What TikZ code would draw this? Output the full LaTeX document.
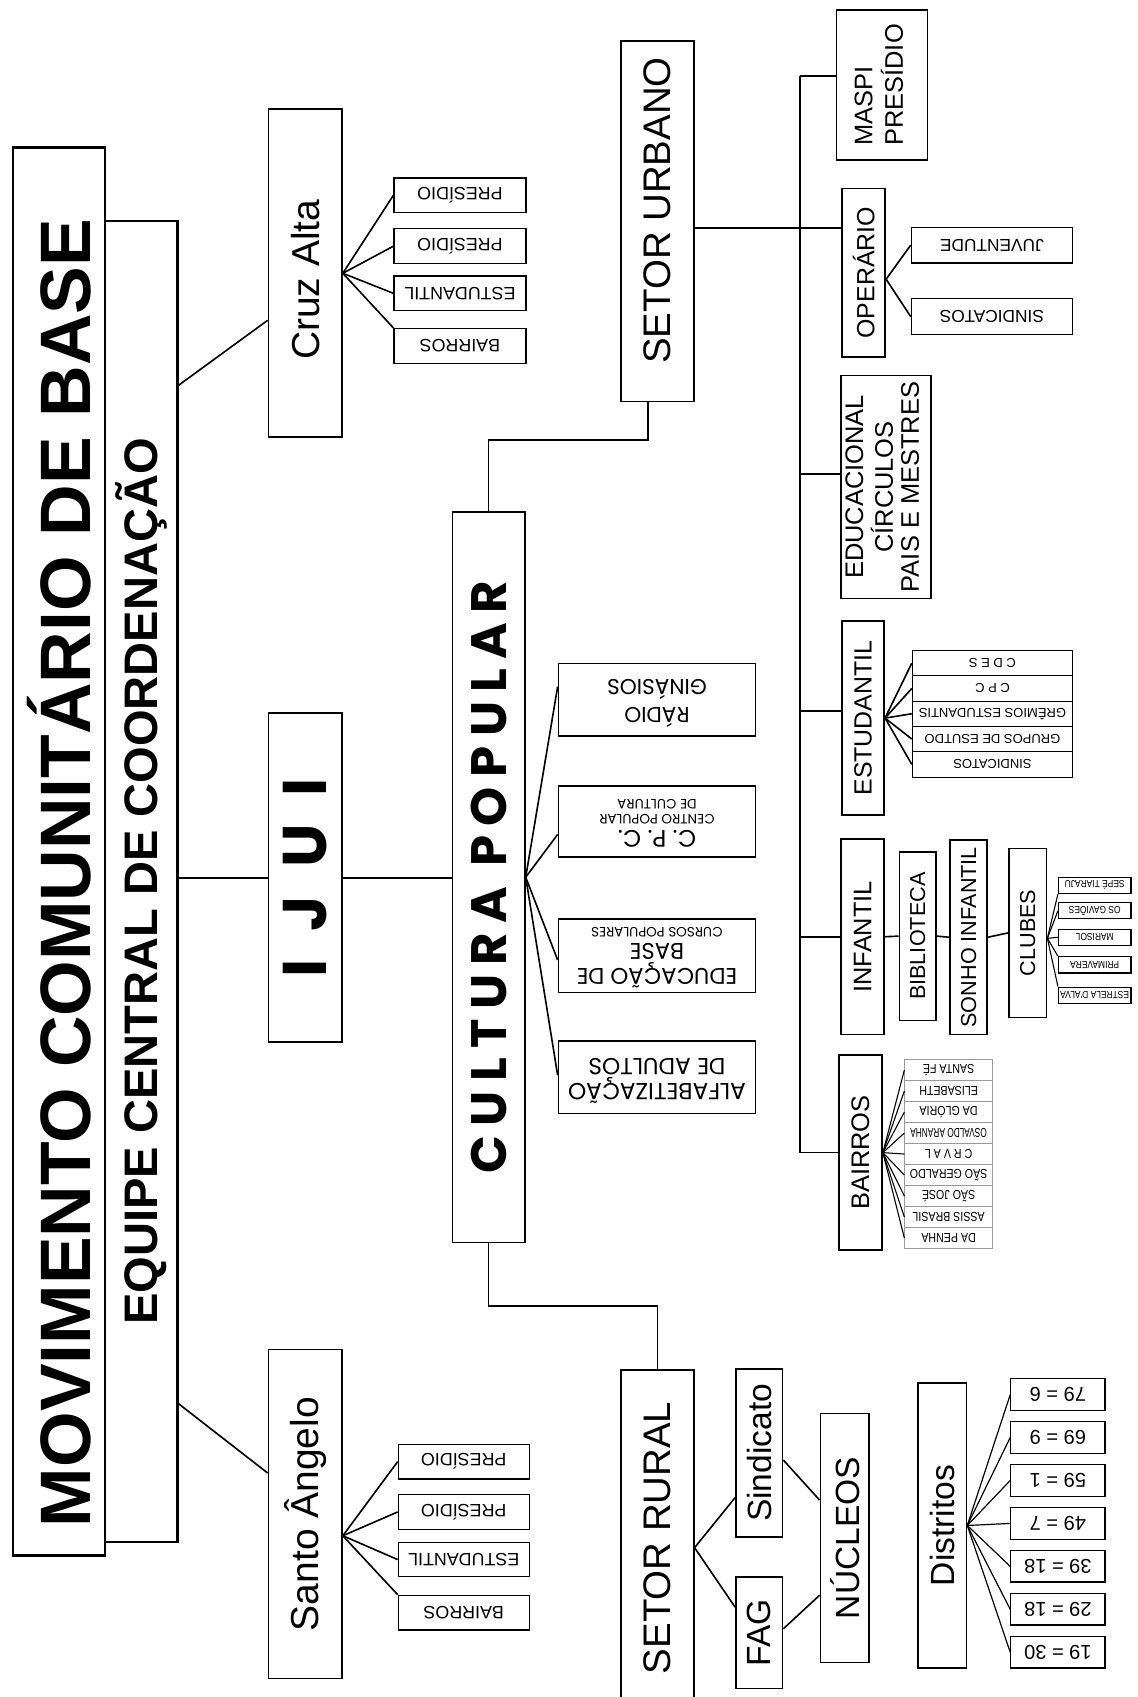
\documentclass[tikz,border=0pt]{standalone}
\usepackage{fontspec}
\setmainfont{Liberation Sans}
\newfontfamily\geofont{Poppins}
\newfontfamily\narrowfont[FakeStretch=0.82]{Liberation Sans}
\newcommand{\fsz}[2]{\fontsize{#1}{#2}\selectfont}
\newcommand{\vup}[1]{\rotatebox{90}{#1}}
\newcommand{\vflip}[1]{\rotatebox{180}{#1}}
\newcommand{\tcell}[1]{\begin{tabular}{@{}c@{}}#1\end{tabular}}
\newcommand{\lcell}[1]{\begin{tabular}{@{}l@{}}#1\end{tabular}}
\newcommand{\lsp}{\hspace{0.19em}}
\tikzset{
  box/.style 2 args={draw, inner sep=0pt, minimum width=#1pt, minimum height=#2pt},
  sub/.style 2 args={draw, line width=1.1pt, inner sep=0pt, minimum width=#1pt, minimum height=#2pt},
}
\begin{document}
\begin{tikzpicture}[x=1pt, y=-1pt, line width=1.5pt]
\useasboundingbox (0,0) rectangle (1051,1568);

% Title
\node[box={85}{1301}, line width=2.6pt] (mov) at (54.5,786.5) {\vup{\fsz{66}{66}\bfseries MOVIMENTO COMUNITÁRIO DE BASE\hspace*{40pt}}};
\node[box={67}{1221}, line width=2pt] (equipe) at (130.5,814.5) {\vup{\fsz{43.5}{44}\bfseries EQUIPE CENTRAL DE COORDENAÇÃO}};

% Cities
\node[box={68}{303}] (cruz) at (282,252.5) {\vup{\fsz{36}{36}Cruz Alta\hspace*{12pt}}};
\node[box={68}{304}] (ijui) at (282,811) {\vup{\fsz{57}{57}\geofont\bfseries I\hspace{0.45em}J\hspace{0.45em}U\hspace{0.45em}I}};
\node[box={68}{304}] (santo) at (282,1399) {\vup{\fsz{36}{36}Santo Ângelo}};
\draw ([yshift=-153pt]equipe.north east) -- ([yshift=-43.5pt]cruz.west);
\draw (equipe.east |- ijui.west) -- (ijui.west);
\draw ([yshift=129pt]equipe.south east) -- ([yshift=38pt]santo.west);

\foreach \t/\y [count=\i] in {PRESÍDIO/180.5, PRESÍDIO/227.5, ESTUDANTIL/271, BAIRROS/319.5}
  \node[sub={122}{32}] (ca\i) at (425,\y) {\vflip{\fsz{16.5}{17}\t}};
\foreach \i in {1,2,3} \draw (cruz.east) -- (ca\i.west);
\draw (cruz.east) -- (ca4.north west);

\foreach \t/\y [count=\i] in {PRESÍDIO/1350.5, PRESÍDIO/1397, ESTUDANTIL/1441, BAIRROS/1490}
  \node[sub={121}{32}] (sa\i) at (428.5,\y) {\vflip{\fsz{16.5}{17}\t}};
\foreach \i in {1,2,3} \draw ([yshift=-20pt]santo.east) -- (sa\i.west);
\draw ([yshift=-20pt]santo.east) -- (sa4.north west);

% Cultura popular
\node[box={67}{675}] (cultura) at (451.5,810.5) {\vup{\fsz{46}{46}\geofont\bfseries C\lsp U\lsp L\lsp T\lsp U\lsp R\lsp A\lsp\ P\lsp O\lsp P\lsp U\lsp L\lsp A\lsp R}};
\draw (ijui.east) -- (ijui.east -| cultura.west);

\node[box={182}{67}] (radio) at (607,646.5) {\vflip{\geofont\fsz{20}{23}\tcell{RÁDIO\\GINÁSIOS}}};
\node[box={182}{66}] (cpc) at (607,759) {\vflip{\geofont\fsz{12.5}{13.5}\tcell{{\fsz{22}{22}C. P. C.}\\[2pt]CENTRO POPULAR\\DE CULTURA}}};
\node[box={182}{68}] (edubase) at (607,883) {\vflip{\geofont\fsz{12.5}{13.5}\tcell{{\fsz{21}{21}EDUCAÇÃO DE}\\[5pt]{\fsz{21}{21}BASE}\\[1pt]CURSOS POPULARES}}};
\node[box={182}{67}] (alfa) at (607,995.5) {\vflip{\geofont\fsz{21.5}{23}\tcell{ALFABETIZAÇÃO\\DE ADULTOS}}};
\foreach \n/\s in {radio/12, cpc/-12, edubase/-4, alfa/2}
  \draw (cultura.east) -- ([yshift=\s pt]\n.west);

% Setor urbano
\node[box={67}{333}] (urbano) at (607.5,204.5) {\vup{\fsz{35.5}{36}\hspace*{20pt}SETOR URBANO}};
\draw ([xshift=-8.5pt]urbano.south) -- ++(0,35) -| (cultura.north);

\node[box={84}{139}] (maspi) at (815,78.5) {\vup{\fsz{23.5}{26}\lcell{MASPI\\PRESÍDIO}}};
\node[box={40}{156}] (operario) at (798,252) {\vup{\fsz{23}{23}OPERÁRIO}};
\node[sub={149}{33}] (juventude) at (916.5,226.5) {\vflip{\fsz{16}{16}JUVENTUDE}};
\node[sub={149}{33}] (sindicatos) at (916.5,292.5) {\vflip{\fsz{16}{16}SINDICATOS}};
\node[box={83}{206}] (educacional) at (818.5,450) {\vup{\fsz{23.5}{24}\tcell{EDUCACIONAL\\CÍRCULOS\\PAIS E MESTRES}}};
\node[box={39}{179}] (estudantil) at (797.5,663.5) {\vup{\fsz{23}{23}ESTUDANTIL}};
\node[box={40}{181}] (infantil) at (797,865.5) {\vup{\fsz{23.5}{24}INFANTIL}};
\node[box={34}{156}] (biblioteca) at (848,865) {\vup{\fsz{20}{20}BIBLIOTECA}};
\node[box={34}{180}] (sonho) at (895,866) {\vup{\fsz{20}{20}SONHO INFANTIL}};
\node[box={35}{156}] (clubes) at (949.5,862) {\vup{\fsz{20}{20}CLUBES}};
\node[box={40}{180}] (bairros) at (795,1065) {\vup{\fsz{23.5}{24}BAIRROS}};

% Bus
\coordinate (bus) at (739,70);
\draw (bus) -- (bus |- bairros.west);
\draw (bus) -- (bus -| maspi.west);
\coordinate (uo) at ([yshift=-6pt]urbano.east);
\draw (uo) -- (uo -| operario.west);
\coordinate (ed) at ([yshift=12pt]educacional.west);
\draw (bus |- ed) -- (ed);
\coordinate (est) at ([yshift=6.5pt]estudantil.west);
\draw (bus |- est) -- (est);
\draw (bus |- infantil.west) -- (infantil.west);
\draw (bus |- bairros.west) -- (bairros.west);

\draw ([yshift=-6pt]operario.east) -- (juventude.west);
\draw ([yshift=-6pt]operario.east) -- (sindicatos.west);

\foreach \t [count=\i] in {C D E S, C P C, GRÊMIOS ESTUDANTIS, GRUPOS DE ESUTDO, SINDICATOS} {
  \node[sub={148}{23.4}, line width=1pt] (es\i) at (917,589.3+23.4*\i) {\vflip{\fsz{12}{12}\t}};
  \draw (estudantil.east) -- (es\i.west);
}

\draw (infantil.east) -- (biblioteca.west);
\draw (biblioteca.east) -- (sonho.west);
\draw (sonho.east) -- (clubes.west);
\foreach \t/\y [count=\i] in {SEPÉ TIARAJU/818, OS GAVIÕES/841.5, MARISOL/866, PRIMAVERA/891.5, ESTRELA D'ALVA/919.5}
  \node[sub={67}{15}, line width=1pt] (cl\i) at (1011.5,\y) {\vflip{\narrowfont\fsz{9.5}{9.5}\t}};
\foreach \i/\a in {1/south west, 2/west, 3/west, 4/north west, 5/north west}
  \draw[line width=1pt] ([yshift=-5pt]clubes.east) -- (cl\i.\a);

\foreach \t [count=\i] in {SANTA FÉ, ELISABETH, DA GLÓRIA, {\scalebox{0.78}[1]{OSVALDO ARANHA}}, C R V A L, SÃO GERALDO, SÃO JOSÉ, ASSIS BRASIL, DA PENHA} {
  \node[sub={81}{19.4}, draw=gray!80, line width=0.8pt] (ba\i) at (876.5,969.3+19.4*\i) {\vflip{\narrowfont\fsz{12}{12}\t}};
  \draw[line width=1pt] (bairros.east) -- (ba\i.west);
}

% Setor rural
\node[box={67}{310}] (rural) at (607.5,1421) {\vup{\fsz{35.5}{36}SETOR RURAL}};
\draw (cultura.south) -- ++(0,58) -| (rural.north);
\node[box={43}{155}] (sindicato) at (701.5,1342.5) {\vup{\fsz{31}{31}Sindicato}};
\node[box={43}{103}] (fag) at (701.5,1508.5) {\vup{\fsz{31}{31}FAG}};
\node[box={45}{230}] (nucleos) at (780.5,1421) {\vup{\fsz{31}{31}NÚCLEOS}};
\node[box={45}{263}] (distritos) at (870.5,1409.5) {\vup{\fsz{31}{31}Distritos}};
\draw ([yshift=-9pt]rural.east) -- ([yshift=37pt]sindicato.south west);
\draw ([yshift=-9pt]rural.east) -- ([yshift=23.5pt]fag.west);
\draw ([yshift=-6.5pt]sindicato.east) -- ([yshift=35pt]nucleos.west);
\draw ([yshift=3.5pt]fag.east) -- ([yshift=-53pt]nucleos.west);

\foreach \t [count=\i] in {79 = 6, 69 = 9, 59 = 1, 49 = 7, 39 = 18, 29 = 18, 19 = 30} {
  \node[sub={87}{29}] (di\i) at (977.5,1248.8+39.7*\i) {\vflip{\fsz{18.5}{19}\t}};
  \draw[line width=1.1pt] (distritos.east) -- (di\i.west);
}
\end{tikzpicture}
\end{document}
